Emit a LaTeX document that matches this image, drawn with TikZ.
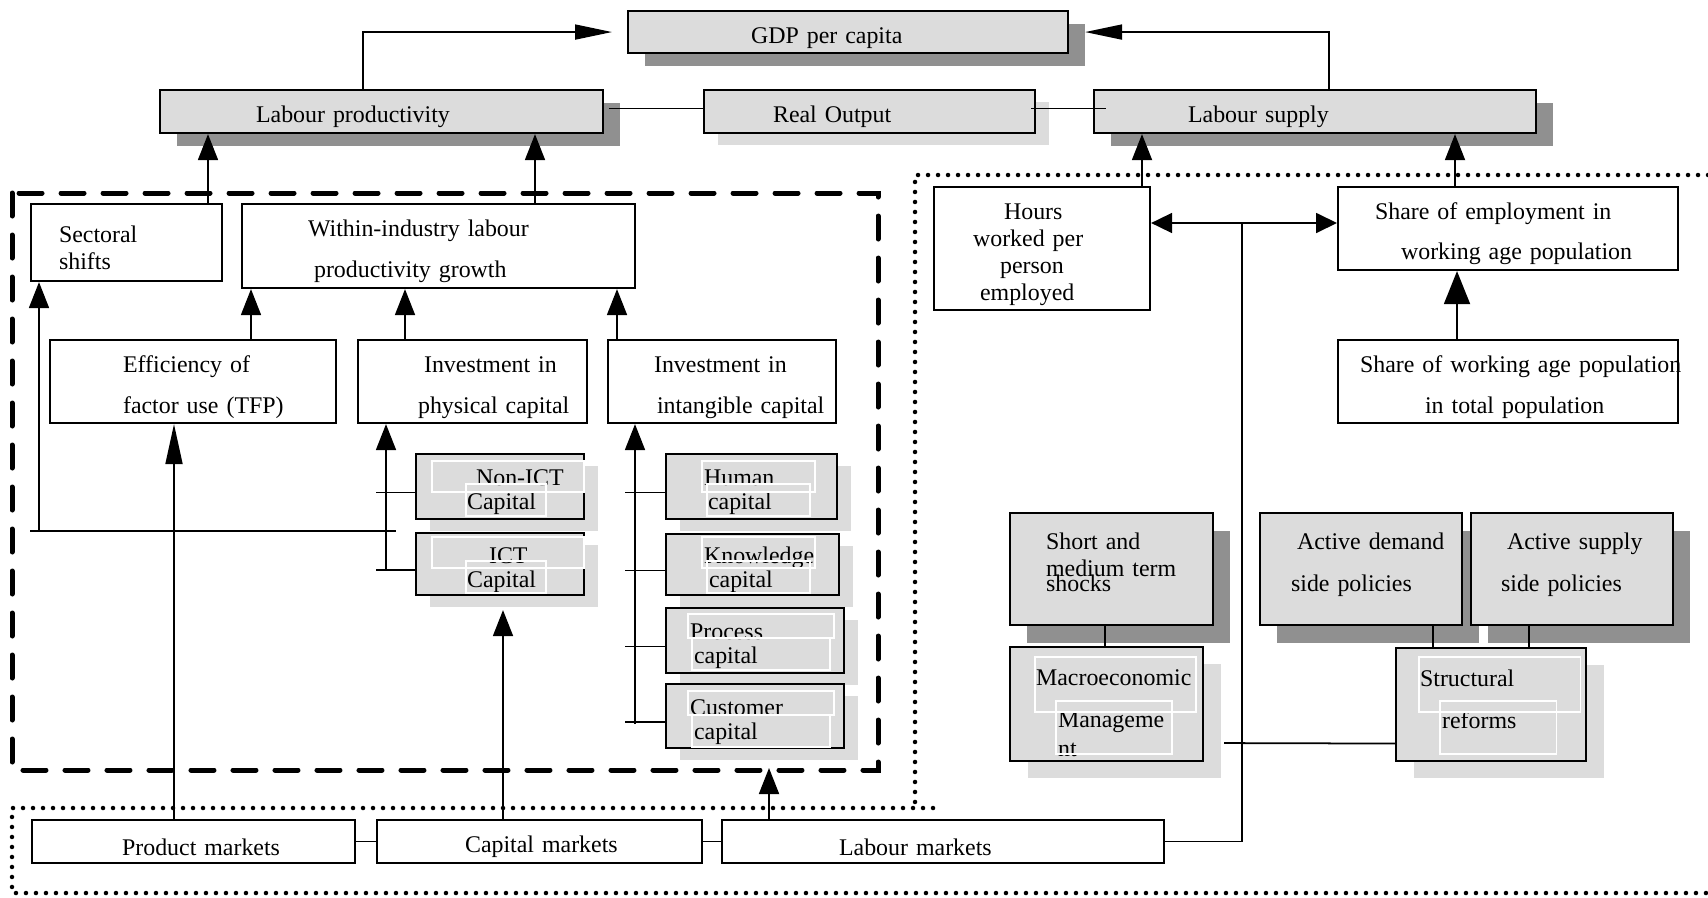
\documentclass[tikz,border=0pt]{standalone}
\usepackage{fontspec}
\setmainfont{Liberation Serif}
\usetikzlibrary{arrows.meta,shadows}

\definecolor{boxgray}{RGB}{220,220,220}
\definecolor{shadedark}{RGB}{144,144,144}
\hyphenpenalty=10000
\exhyphenpenalty=10000

\tikzset{
  tv/.style={execute at begin node={\rule{0pt}{#1}}},
  fb/.style 2 args={tv=0pt, text height=#1, text depth=#2},
  box/.style={draw, line width=0.6pt, anchor=north west, inner ysep=0pt,
    font=\fontsize{6.8pt}{7.7pt}\selectfont, tv=2.75mm},
  wbox/.style={box, fill=white},
  gbox/.style={box, fill=boxgray},
  wh/.style 2 args={minimum width=#1, minimum height=#2},
  tw/.style 2 args={align=left, inner xsep=#1, text width=#2},
  dshade/.style={drop shadow={shadow xshift=1.7mm, shadow yshift=-1.3mm, fill=shadedark, opacity=1}},
  lshade/.style={drop shadow={shadow xshift=1.4mm, shadow yshift=-1.2mm, fill=boxgray, opacity=1}},
  pshade/.style={drop shadow={shadow xshift=1.7mm, shadow yshift=-1.8mm, fill=shadedark, opacity=1}},
  plshade/.style={drop shadow={shadow xshift=1.8mm, shadow yshift=-1.7mm, fill=boxgray, opacity=1}},
  link/.style={line width=0.5pt},
  arr/.style={link, -{Triangle[length=2.6mm, width=2mm]}},
  longarr/.style={link, -{Triangle[length=3.7mm, width=1.5mm]}},
  bigarr/.style={link, -{Triangle[length=3.3mm, width=2.6mm]}},
  duoarr/.style={link, {Triangle[length=2.1mm, width=2mm]}-{Triangle[length=2.1mm, width=2mm]}},
  dashframe/.style={line width=0.5mm, dash pattern=on 2.3mm off 1.9mm, line cap=round},
  dotframe/.style={line width=0.45mm, dash pattern=on 0pt off 1mm, line cap=round},
  textframe/.style={white, line width=0.3pt},
}

\begin{document}
\begin{tikzpicture}[x=0.1mm, y=-0.1mm]
\useasboundingbox (0,0) rectangle (1708,897);
\fill[white] (0,0) rectangle (1708,897);

% frames
\draw[dashframe] (12,193) rectangle (878,770);
\draw[dotframe] (1708,175) -- (915,175) -- (915,808);
\draw[dotframe] (933,808) -- (12,808) -- (12,893) -- (1708,893);

% top row
\node[gbox, dshade, wh={44mm}{4.2mm}, tw={12.3mm}{19.4mm}] (gdp) at (627,10) {GDP per capita};
\node[gbox, dshade, wh={44.3mm}{4.3mm}, tw={9.6mm}{25.1mm}] (lp) at (159,89) {Labour productivity};
\node[gbox, lshade, wh={33.1mm}{4.3mm}, tw={6.9mm}{19.3mm}] (ro) at (703,89) {Real Output};
\node[gbox, dshade, wh={44.2mm}{4.3mm}, tw={9.4mm}{25.4mm}] (ls) at (1093,89) {Labour supply};

% productivity side
\node[wbox, wh={19.1mm}{7.7mm}, tw={2.8mm}{13.5mm}] (sect) at (30,203) {Sectoral\\shifts};
\node[wbox, wh={39.3mm}{8.4mm}, tw={6.6mm}{26.1mm}] (within) at (241,203) {Within-industry labour\\[1.4mm]\hspace*{0.6mm}productivity growth};
\node[wbox, wh={28.6mm}{8.3mm}, tw={7.3mm}{14mm}] (eff) at (49,339) {Efficiency of\\[1.4mm]factor~use~(TFP)};
\node[wbox, wh={22.9mm}{8.3mm}, tw={6mm}{10.9mm}] (phys) at (357,339) {\hspace*{0.6mm}Investment~in\\[1.4mm]physical~capital};
\node[wbox, wh={22.8mm}{8.3mm}, tw={4.6mm}{13.6mm}] (intang) at (607,339) {Investment~in\\[1.4mm]\hspace*{0.3mm}intangible~capital};

\node[gbox, lshade, wh={16.8mm}{6.5mm}, tw={5.1mm}{6.6mm}] (nonict) at (415,453) {\hspace*{0.9mm}Non-ICT\\[-0.3mm]Capital};
\node[gbox, lshade, wh={16.8mm}{6.2mm}, tw={5.1mm}{6.6mm}] (ict) at (415,532) {\hspace*{2.2mm}ICT\\[-0.3mm]Capital};
\node[gbox, lshade, wh={17.1mm}{6.5mm}, tw={3.8mm}{9.5mm}] (hum) at (665,453) {Human\\[-0.3mm]\hspace*{0.4mm}capital};
\node[gbox, lshade, wh={17.3mm}{6.1mm}, tw={3.8mm}{9.7mm}] (know) at (665,533) {Knowledge\\[-0.3mm]\hspace*{0.5mm}capital};
\node[gbox, lshade, wh={17.8mm}{6.5mm}, tw={2.4mm}{13mm}] (proc) at (665,607) {Process\\[-0.3mm]\hspace*{0.4mm}capital};
\node[gbox, lshade, wh={17.8mm}{6.4mm}, tw={2.4mm}{13mm}] (cust) at (665,683) {Customer\\[-0.3mm]\hspace*{0.4mm}capital};

% labour side
\node[wbox, wh={21.6mm}{12.3mm}, tw={3.9mm}{13.8mm}] (hours) at (933,186) {\hspace*{3.1mm}Hours\\worked~per\\\hspace*{2.7mm}person\\\hspace*{0.7mm}employed};
\node[wbox, wh={34mm}{8.3mm}, tw={3.7mm}{26.6mm}] (semp) at (1337,186) {Share of employment in\\[1.3mm]\hspace*{2.6mm}working age population};
\node[wbox, wh={34mm}{8.3mm}, tw={2.2mm}{29.6mm}] (swap) at (1337,339) {Share~of~working~age~population\\[1.4mm]\hspace*{6.5mm}in total population};

% policies
\node[gbox, pshade, wh={20.3mm}{11.2mm}, tw={3.6mm}{13.1mm}, fb={3.6mm}{7.6mm}] (shock) at (1009,512) {Short and\\medium~term\\[-1.2mm]shocks};
\node[gbox, plshade, wh={19.3mm}{11.4mm}, tw={2.6mm}{14.1mm}, tv=3.4mm] (macro) at (1009,646) {Macroeconomic\\[1.5mm]\hspace*{2.2mm}Manageme\\[0.2mm]\hspace*{2.2mm}nt};
\node[gbox, pshade, wh={20.2mm}{11.2mm}, tw={3.1mm}{14mm}, fb={3.6mm}{7.6mm}] (dem) at (1259,512) {\hspace*{0.6mm}Active~demand\\[1.5mm]side~policies};
\node[gbox, pshade, wh={20.2mm}{11.2mm}, tw={3mm}{14.2mm}, fb={3.6mm}{7.6mm}] (sup) at (1470,512) {\hspace*{0.6mm}Active~supply\\[1.5mm]side~policies};
\node[gbox, plshade, wh={19mm}{11.3mm}, tw={2.4mm}{14.2mm}, fb={3.8mm}{7.5mm}] (struct) at (1395,647) {Structural\\[1.5mm]\hspace*{2.2mm}reforms};

% markets
\node[wbox, wh={32.3mm}{4.3mm}, tw={9mm}{14.3mm}] (prod) at (31,819) {Product~markets};
\node[wbox, wh={32.5mm}{4.3mm}, tw={8.8mm}{14.9mm}] (capm) at (376,819) {Capital~markets};
\node[wbox, wh={44.2mm}{4.3mm}, tw={11.7mm}{20.8mm}] (labm) at (721,819) {Labour markets};

% faint text frames left over in the grey boxes
\foreach \ya/\yb/\yc/\yd in {461/492/484/516, 537/568/561/593} {
  \draw[textframe] (432,\ya) rectangle (584,\yb);
  \draw[textframe] (466,\yc) rectangle (546,\yd);
  \draw[textframe] (702,\ya) rectangle (815,\yb);
  \draw[textframe] (707,\yc) rectangle (810,\yd);
}
\foreach \ya/\yb/\yc in {614/638/670, 691/715/747} {
  \draw[textframe] (688,\ya) rectangle (834,\yb);
  \draw[textframe] (692,\yb) rectangle (830,\yc);
}
\foreach \xa/\xb/\xc/\xd in {1035/1196/1056/1172, 1419/1580/1440/1556} {
  \draw[textframe] (\xa,657) rectangle (\xb,712);
  \draw[textframe] (\xc,701) rectangle (\xd,754);
}

% junctions
\coordinate (lpup) at ([xshift=20.4mm]lp.north west);
\coordinate (lsup) at ([xshift=23.6mm]ls.north west);
\coordinate (sectup) at ([xshift=17.8mm]sect.north west);
\coordinate (withinup) at ([xshift=29.4mm]within.north west);
\coordinate (effup) at ([xshift=20.2mm]eff.north west);
\coordinate (physup) at ([xshift=4.8mm]phys.north west);
\coordinate (intangup) at ([xshift=1mm]intang.north west);
\coordinate (sectj) at (39,531);
\coordinate (physj) at ([xshift=-2.9mm,yshift=-0.6mm]ict.west);
\coordinate (physk) at (physj |- sectj);
\coordinate (intj) at ([xshift=-3mm,yshift=-0.8mm]cust.west);
\coordinate (produp) at ([xshift=14.3mm]prod.north west);
\coordinate (capup) at ([xshift=12.7mm]capm.north west);
\coordinate (ictshade) at ([yshift=-1.4mm]ict.south);
\coordinate (labup) at ([xshift=4.8mm]labm.north west);
\coordinate (frameb) at (878,768);
\coordinate (hj) at (1242,223);
\coordinate (hoursup) at ([xshift=20.9mm]hours.north west);
\coordinate (sempup) at ([xshift=11.8mm]semp.north west);
\coordinate (swapup) at ([xshift=12mm]swap.north west);
\coordinate (demdown) at ([xshift=17.4mm]dem.south west);
\coordinate (supdown) at ([xshift=5.9mm]sup.south west);

% top links
\draw[longarr] (lpup) |- ([xshift=-1.5mm]gdp.west);
\draw[longarr] (lsup) |- ([xshift=1.6mm]gdp.east);
\draw[link] ([xshift=0.5mm,yshift=0.3mm]lp.east) -- ([yshift=0.3mm]ro.west);
\draw[link] ([xshift=-0.5mm,yshift=0.3mm]ro.east) -- ([xshift=1.3mm,yshift=0.3mm]ls.west);

% productivity links
\draw[arr] (sectup) -- (sectup |- lp.south);
\draw[arr] (withinup) -- (withinup |- lp.south);
\draw[arr] (effup) -- (effup |- within.south);
\draw[arr] (physup) -- (physup |- within.south);
\draw[arr] (intangup) -- (intangup |- within.south);
\draw[arr] (sectj) -- (sectj |- sect.south);
\draw[link] ([xshift=-0.9mm]sectj) -- ([xshift=1mm]physk);
\draw[arr] (physj) -- (physj |- phys.south);
\foreach \n in {nonict,ict}
  \draw[link] ([xshift=-3.9mm,yshift=-0.6mm]\n.west) -- ([yshift=-0.6mm]\n.west);
\draw[arr] (intj) -- (intj |- intang.south);
\foreach \n in {hum,know,proc,cust}
  \draw[link] ([xshift=-4mm,yshift=-0.6mm]\n.west) -- ([yshift=-0.6mm]\n.west);

% market links
\draw[link, -{Triangle[length=4mm, width=1.7mm]}] (produp) -- (produp |- eff.south);
\draw[arr] (capup) -- (capup |- ictshade);
\draw[arr] (labup) -- (labup |- frameb);
\draw[link] (prod.east) -- (capm.west);
\draw[link] (capm.east) -- (labm.west);
\draw[link] (labm.east) -| (hj);

% labour links
\draw[duoarr] (hours.east |- hj) -- (semp.west |- hj);
\draw[arr] (hoursup) -- (hoursup |- ls.south);
\draw[arr] (sempup) -- (sempup |- ls.south);
\draw[bigarr] (swapup) -- (swapup |- semp.south);

% policy links
\draw[link] ([xshift=9.6mm]shock.south west) -- ([xshift=9.6mm]macro.north west);
\draw[link] (demdown) -- (demdown |- struct.north);
\draw[link] (supdown) -- (supdown |- struct.north);
\draw[link] ([xshift=2mm,yshift=-3.9mm]macro.east) -- ([yshift=-3.9mm]struct.west);
\end{tikzpicture}
\end{document}
